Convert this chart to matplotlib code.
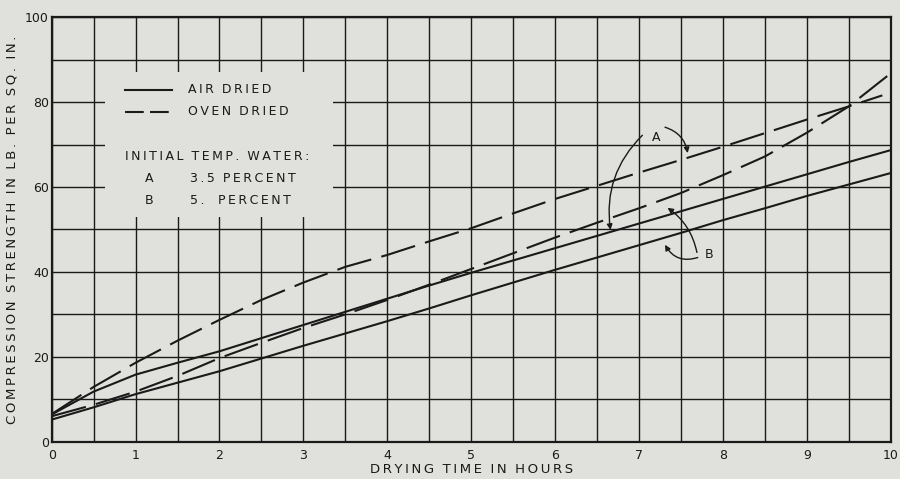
"""Compression strength vs drying time, air dried and oven dried."""
import matplotlib
matplotlib.use("Agg")
import matplotlib.pyplot as plt
import matplotlib.patches as mpatches
from matplotlib.ticker import MultipleLocator

# ── data ─────────────────────────────────────────────────────────────────────
HOURS = [0, 0.5, 1, 1.5, 2, 2.5, 3, 3.5, 4, 4.5, 5, 5.5, 6, 6.5, 7, 7.5, 8,
         8.5, 9, 9.5, 10]
HOURS_A_OVEN = HOURS[:-1] + [9.9]

A_AIR = [6.4, 11.8, 15.8, 18.6, 21.3, 24.4, 27.5, 30.6, 33.7, 36.8, 39.8,
         42.7, 45.6, 48.5, 51.4, 54.3, 57.2, 60.1, 63.0, 65.9, 68.7]
B_AIR = [5.2, 8.1, 11.2, 13.9, 16.6, 19.6, 22.6, 25.5, 28.4, 31.4, 34.5,
         37.5, 40.5, 43.4, 46.3, 49.2, 52.2, 55.0, 57.9, 60.6, 63.3]
A_OVEN = [6.5, 12.9, 18.6, 23.8, 28.7, 33.4, 37.5, 41.2, 44.0, 47.2, 50.3,
          53.8, 57.2, 60.3, 63.4, 66.4, 69.5, 72.7, 75.9, 79.0, 81.6]
B_OVEN = [6.0, 8.7, 11.8, 15.5, 19.7, 23.3, 26.8, 30.0, 33.4, 37.0, 40.7,
          44.4, 48.1, 51.6, 55.0, 58.6, 62.8, 67.2, 72.8, 79.0, 86.8]

X_TICKS = list(range(0, 11))
Y_TICKS = list(range(0, 101, 20))

BG = "#e0e0dc"
INK = "#1a1a1a"
DASH = (17, 5)


def spaced(s):
    # old drafting lettering is widely spaced: thin spaces between glyphs
    return " ".join("\u2009".join(w) for w in s.split(" "))


fig = plt.figure(figsize=(9.0, 4.79), dpi=100, facecolor=BG)
ax = fig.add_axes([0.0574, 0.0779, 0.9323, 0.886])
ax.set_facecolor(BG)

ax.plot(HOURS, A_AIR, color=INK, lw=1.5, zorder=3)
ax.plot(HOURS, B_AIR, color=INK, lw=1.5, zorder=3)
ax.plot(HOURS_A_OVEN, A_OVEN, color=INK, lw=1.5, dashes=DASH, zorder=3)
ax.plot(HOURS, B_OVEN, color=INK, lw=1.5, dashes=DASH, zorder=3)

ax.set_xlim(0, 10)
ax.set_ylim(0, 100)
ax.set_xticks(X_TICKS)
ax.set_yticks(Y_TICKS)
ax.xaxis.set_minor_locator(MultipleLocator(0.5))
ax.yaxis.set_minor_locator(MultipleLocator(10))
ax.tick_params(which="both", length=0, labelsize=9, colors=INK)
ax.tick_params(axis="x", pad=5)
ax.tick_params(axis="y", pad=2)
ax.set_axisbelow(True)
ax.grid(True, which="both", color=INK, lw=1.0)
for s in ax.spines.values():
    s.set_linewidth(1.6)
    s.set_color(INK)

ax.set_xlabel(spaced("DRYING  TIME  IN  HOURS"), fontsize=9.5, color=INK,
              labelpad=1)
ax.set_ylabel(spaced("COMPRESSION  STRENGTH  IN  LB.  PER  SQ.  IN."),
              fontsize=9.5, color=INK, labelpad=5)

# ── legend block (grid blanked behind it) ────────────────────────────────────
ax.add_patch(mpatches.Rectangle((0.0635, 0.529), 0.272, 0.342,
                                transform=ax.transAxes, facecolor=BG,
                                edgecolor="none", zorder=1))
ax.plot([0.087, 0.144], [0.829, 0.829], transform=ax.transAxes,
        color=INK, lw=1.5, zorder=3)
ax.plot([0.087, 0.144], [0.777, 0.777], transform=ax.transAxes,
        color=INK, lw=1.5, dashes=(9, 3), zorder=3)
txt = dict(transform=ax.transAxes, fontsize=9, color=INK, va="center",
           zorder=3)
ax.text(0.163, 0.829, spaced("AIR  DRIED"), **txt)
ax.text(0.163, 0.777, spaced("OVEN  DRIED"), **txt)
ax.text(0.087, 0.671, spaced("INITIAL  TEMP.  WATER:"), **txt)
ax.text(0.111, 0.621, "A", **txt)
ax.text(0.165, 0.621, spaced("3.5  PERCENT"), **txt)
ax.text(0.111, 0.569, "B", **txt)
ax.text(0.165, 0.569, spaced("5."), **txt)
ax.text(0.198, 0.569, spaced("PERCENT"), **txt)

# ── curve callouts ───────────────────────────────────────────────────────────
arrow = dict(arrowstyle="-|>", color=INK, lw=1.0, mutation_scale=8,
             shrinkA=0, shrinkB=0)
ax.text(7.21, 71.6, "A", fontsize=9, color=INK, ha="center", va="center")
ax.annotate("", xy=(6.66, 49.9), xytext=(7.04, 72.2),
            arrowprops=dict(arrow, connectionstyle="arc3,rad=0.25"))
ax.annotate("", xy=(7.58, 68.0), xytext=(7.31, 74.1),
            arrowprops=dict(arrow, connectionstyle="arc3,rad=-0.3"))
ax.text(7.84, 44.0, "B", fontsize=9, color=INK, ha="center", va="center")
ax.annotate("", xy=(7.34, 55.1), xytext=(7.69, 44.6),
            arrowprops=dict(arrow, connectionstyle="arc3,rad=0.2"))
ax.annotate("", xy=(7.31, 46.4), xytext=(7.70, 43.4),
            arrowprops=dict(arrow, connectionstyle="arc3,rad=-0.4"))

fig.savefig("out.png", dpi=100, facecolor=BG)
